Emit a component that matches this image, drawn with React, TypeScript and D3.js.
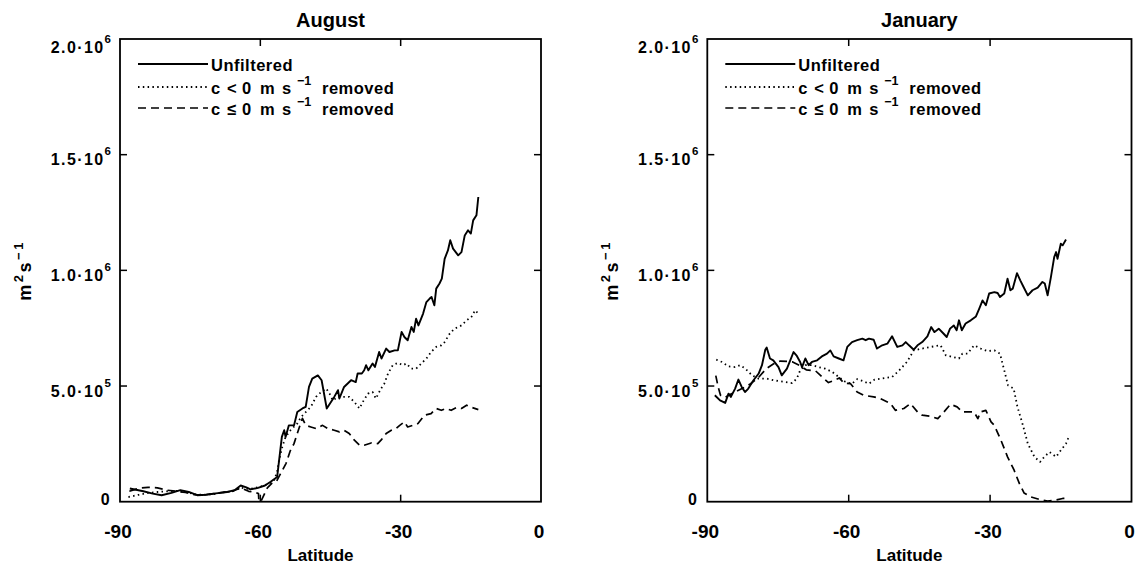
import React from 'react';
import * as d3 from 'd3';

// ---------------- data (values in units of 1e5 m^2 s^-1) ----------------
const UNIT = 1e5;
type Pt = [number, number];

const augustUnfiltered: Pt[] = [
  [-87.9, 0.57], [-85, 0.45], [-83, 0.35], [-81.1, 0.28], [-79, 0.38], [-77.1, 0.5], [-75.3, 0.42],
  [-73.5, 0.28], [-71.5, 0.3], [-69.5, 0.36], [-67.1, 0.42], [-65.5, 0.5], [-64.2, 0.7], [-63, 0.62],
  [-62.1, 0.53], [-60.5, 0.6], [-59, 0.7], [-57.8, 0.86], [-56.4, 1.07], [-55.4, 2.8], [-54.9, 3.09],
  [-54.6, 2.8], [-53.9, 3.3], [-52.8, 3.3], [-52.1, 3.88], [-51.0, 4.03], [-50.3, 4.1], [-49.6, 4.96],
  [-48.9, 5.32], [-47.7, 5.46], [-46.9, 5.25], [-45.8, 4.03], [-44.9, 4.31], [-44.2, 4.53], [-43.4, 4.82],
  [-43.1, 4.46], [-42.1, 4.96], [-40.6, 5.25], [-39.6, 5.17], [-39.2, 5.54], [-38.3, 5.54], [-37.8, 5.68],
  [-37.4, 5.9], [-36.9, 5.68], [-36.0, 5.97], [-35.5, 5.82], [-34.6, 6.47], [-34.1, 6.19], [-33.1, 6.62],
  [-32.4, 6.47], [-31.3, 6.54], [-30.6, 6.54], [-29.8, 7.34], [-29.2, 7.12], [-28.5, 6.98], [-27.7, 7.55],
  [-27.2, 7.34], [-26.7, 7.91], [-26.2, 7.62], [-25.2, 8.13], [-24.5, 8.63], [-23.8, 8.78], [-23.4, 8.85],
  [-22.8, 8.49], [-22.4, 9.21], [-21.7, 9.43], [-21.2, 9.64], [-20.6, 10.5], [-19.9, 10.86], [-19.4, 11.3],
  [-18.8, 10.94], [-17.7, 10.65], [-17.0, 10.79], [-16.3, 11.51], [-15.6, 11.73], [-15.0, 11.59],
  [-14.5, 12.16], [-13.8, 12.38], [-13.4, 13.17],
];

const augustNoNegative: Pt[] = [
  [-88.2, 0.2], [-86, 0.3], [-84, 0.38], [-82, 0.42], [-80, 0.45], [-78, 0.47], [-76, 0.42], [-74, 0.32],
  [-72, 0.3], [-70, 0.33], [-68, 0.4], [-66, 0.45], [-64.2, 0.6], [-62.5, 0.55], [-61, 0.6], [-59.5, 0.68],
  [-58, 0.8], [-57, 0.95], [-56.4, 1.3], [-56.0, 1.79], [-55.3, 2.37], [-54.6, 2.8], [-53.5, 3.1],
  [-52.1, 3.38], [-51.3, 3.66], [-50.6, 3.81], [-49.2, 4.1], [-48.1, 4.53], [-47.0, 4.74], [-45.9, 4.89],
  [-45.2, 4.67], [-44.5, 4.38], [-43.4, 4.53], [-42.1, 4.53], [-41.0, 4.53], [-39.9, 4.31], [-38.8, 4.03],
  [-38.1, 4.31], [-37.0, 4.67], [-36.0, 4.74], [-35.3, 4.46], [-34.2, 4.89], [-33.5, 5.1], [-32.7, 5.54],
  [-31.7, 5.9], [-30.6, 6.0], [-29.5, 5.9], [-28.8, 5.97], [-27.7, 5.75], [-26.7, 5.75], [-25.6, 5.97],
  [-24.5, 6.19], [-23.5, 6.47], [-22.4, 6.69], [-21.3, 6.76], [-20.6, 6.9], [-19.5, 7.27], [-18.5, 7.48],
  [-17.0, 7.62], [-15.9, 7.84], [-14.9, 7.98], [-14.1, 8.27], [-13.4, 8.13],
];

const augustNoNonPositive: Pt[] = [
  [-88, 0.45], [-86, 0.58], [-84, 0.62], [-82, 0.6], [-80, 0.5], [-78, 0.45], [-76, 0.4], [-74, 0.3],
  [-72, 0.3], [-70, 0.35], [-68, 0.4], [-66, 0.45], [-64.2, 0.6], [-62.5, 0.45], [-61, 0.4], [-60.4, 0.35],
  [-60.3, 0.0], [-59.8, 0.05], [-58.5, 0.6], [-57.5, 0.8], [-56.5, 0.9], [-55.7, 1.2], [-54.5, 1.66],
  [-53.6, 2.2], [-52.8, 2.51], [-52.1, 2.95], [-51.4, 3.38], [-51.0, 3.6], [-50.3, 3.3], [-49.2, 3.23],
  [-48.1, 3.16], [-46.7, 3.3], [-45.6, 3.16], [-44.2, 3.09], [-43.1, 3.02], [-42.1, 3.09], [-41.0, 2.95],
  [-39.9, 2.66], [-38.8, 2.44], [-37.8, 2.44], [-36.3, 2.54], [-34.9, 2.51], [-34.2, 2.66], [-33.1, 2.95],
  [-32.0, 3.09], [-31.0, 3.16], [-30.2, 3.3], [-29.2, 3.45], [-28.5, 3.23], [-27.4, 3.3], [-26.3, 3.38],
  [-24.9, 3.74], [-23.5, 3.81], [-22.4, 4.03], [-21.3, 3.95], [-20.3, 4.03], [-19.2, 3.95], [-18.1, 4.07],
  [-17.0, 4.03], [-15.9, 4.17], [-15.2, 4.1], [-13.4, 3.98],
];

const januaryUnfiltered: Pt[] = [
  [-88.4, 4.6], [-87.3, 4.38], [-86.2, 4.27], [-85.5, 4.67], [-85.0, 4.53], [-84.1, 4.89], [-83.4, 5.28],
  [-82.7, 4.96], [-82.0, 4.74], [-81.3, 4.89], [-80.2, 5.25], [-79.1, 5.54], [-78.4, 5.9], [-77.7, 6.57],
  [-77.4, 6.66], [-76.7, 6.19], [-76.0, 6.11], [-74.9, 5.82], [-74.2, 5.46], [-73.1, 5.75], [-72.4, 6.11],
  [-71.7, 6.47], [-71.0, 6.3], [-70.3, 6.04], [-69.9, 5.82], [-69.2, 6.19], [-68.5, 5.9], [-67.8, 6.04],
  [-66.7, 6.11], [-65.7, 6.28], [-64.6, 6.4], [-63.9, 6.54], [-63.2, 6.28], [-62.1, 6.19], [-61.1, 6.11],
  [-60.3, 6.69], [-59.3, 6.9], [-58.2, 6.98], [-57.1, 7.05], [-56.4, 6.98], [-55.7, 7.05], [-54.7, 7.0],
  [-54.0, 6.62], [-52.9, 6.76], [-51.8, 6.83], [-50.8, 7.15], [-49.7, 6.69], [-48.6, 6.76], [-47.9, 6.9],
  [-47.2, 6.76], [-46.2, 6.57], [-45.4, 6.76], [-44.4, 6.9], [-43.3, 7.15], [-42.5, 7.55], [-41.8, 7.33],
  [-40.9, 7.48], [-39.9, 7.27], [-39.2, 7.12], [-38.5, 7.48], [-37.7, 7.62], [-37.1, 7.41], [-36.6, 7.84],
  [-36.0, 7.41], [-35.2, 7.7], [-34.1, 7.84], [-33.0, 8.01], [-32.3, 8.35], [-31.6, 8.7], [-30.9, 8.49],
  [-30.2, 9.0], [-29.1, 9.06], [-28.4, 9.02], [-27.9, 8.85], [-27.0, 9.0], [-26.3, 9.64], [-25.7, 9.14],
  [-25.2, 9.21], [-24.3, 9.88], [-23.6, 9.57], [-22.9, 9.28], [-22.0, 8.92], [-21.0, 9.14], [-19.9, 9.25],
  [-18.9, 9.5], [-18.4, 9.43], [-17.8, 8.92], [-17.1, 9.71], [-16.4, 10.57], [-16.0, 10.79], [-15.7, 10.5],
  [-15.0, 11.15], [-14.6, 11.08], [-13.9, 11.33],
];

const januaryNoNegative: Pt[] = [
  [-88.1, 6.14], [-86.9, 6.04], [-85.5, 5.85], [-84.1, 5.82], [-83.0, 5.9], [-81.9, 5.75], [-80.5, 5.46],
  [-79.1, 5.32], [-77.4, 5.32], [-76.0, 5.25], [-73.8, 5.18], [-72.0, 5.13], [-71.0, 5.32], [-70.3, 5.68],
  [-69.2, 5.9], [-67.8, 5.9], [-66.4, 5.82], [-65.0, 5.75], [-63.5, 5.61], [-62.1, 5.39], [-60.7, 5.18],
  [-59.3, 5.1], [-58.2, 5.3], [-56.8, 5.2], [-55.7, 5.1], [-54.5, 5.28], [-52.8, 5.33], [-50.8, 5.39],
  [-49.4, 5.65], [-47.6, 6.05], [-46.2, 6.54], [-44.4, 6.62], [-42.6, 6.69], [-40.5, 6.76], [-39.4, 6.33],
  [-38.0, 6.26], [-36.6, 6.19], [-35.9, 6.4], [-34.8, 6.4], [-33.4, 6.76], [-32.0, 6.62], [-30.6, 6.51],
  [-29.1, 6.54], [-27.9, 6.4], [-27.0, 5.68], [-26.2, 5.03], [-25.0, 4.89], [-24.2, 4.1], [-23.0, 3.28],
  [-22.0, 2.51], [-20.6, 1.94], [-19.4, 1.72], [-18.5, 1.94], [-17.4, 2.15], [-16.0, 1.94], [-15.0, 2.22],
  [-13.9, 2.51], [-13.3, 2.8],
];

const januaryNoNonPositive: Pt[] = [
  [-88.2, 5.45], [-87.7, 4.96], [-87.2, 4.6], [-86.2, 4.5], [-85.5, 4.6], [-84, 4.75], [-82, 4.96],
  [-80.8, 5.1], [-79, 5.4], [-77.5, 5.75], [-76, 5.95], [-74.5, 6.08], [-72, 6.05], [-70.5, 5.9],
  [-69, 5.7], [-67, 5.65], [-65.7, 5.4], [-64.3, 5.15], [-63, 5.25], [-62, 5.35], [-61, 5.12],
  [-59.6, 5.1], [-58.2, 4.74], [-56.8, 4.6], [-54.7, 4.53], [-53.3, 4.46], [-51.1, 4.24], [-50.1, 3.95],
  [-48.3, 4.03], [-46.9, 4.24], [-45.4, 3.88], [-44.4, 3.74], [-42.6, 3.69], [-41.1, 3.59], [-39.8, 3.88],
  [-38.4, 4.21], [-37.0, 4.1], [-35.9, 3.88], [-34.5, 3.88], [-33.4, 3.88], [-32.6, 3.59], [-32.0, 3.88],
  [-30.9, 3.95], [-29.8, 3.45], [-29.1, 3.3], [-27.7, 2.66], [-26.3, 1.94], [-24.9, 1.36], [-23.8, 0.79],
  [-22.8, 0.38], [-21.4, 0.21], [-19.6, 0.1], [-17.8, 0.03], [-16.4, 0.06], [-14.6, 0.14], [-13.9, 0.14],
];

const panelTitles = ['August', 'January'];
const xTickValues = [-90, -60, -30, 0];
const xTickLabels = ['-90', '-60', '-30', '0'];
const yTickValues = [0, 5e5, 1e6, 1.5e6, 2e6];
const yTickMantissa = ['0', '5.0·10', '1.0·10', '1.5·10', '2.0·10'];
const yTickExponent = ['', '5', '6', '6', '6'];
const legendRelations = ['', '<', '≤'];
const legendFirstLabel = 'Unfiltered';

// ---------------- layout ----------------
const W = 1135;
const H = 564;
const TOP = 39;
const BOTTOM = 501.7;
const FONT = "'Liberation Sans', Arial, Helvetica, sans-serif";
const panels = [
  { x0: 120, x1: 541, title: panelTitles[0], series: [augustUnfiltered, augustNoNegative, augustNoNonPositive] },
  { x0: 707.3, x1: 1131.5, title: panelTitles[1], series: [januaryUnfiltered, januaryNoNegative, januaryNoNonPositive] },
];
const styles = [
  { dash: undefined as string | undefined, width: 1.9 },
  { dash: '1.5,3.3', width: 1.8 },
  { dash: '8,5', width: 1.7 },
];
const TICK = 7;

function Panel({ x0, x1, title, series }: { x0: number; x1: number; title: string; series: Pt[][] }) {
  const x = d3.scaleLinear().domain([-90, 0]).range([x0, x1]);
  const y = d3.scaleLinear().domain([0, 2e6]).range([BOTTOM, TOP]);
  const line = d3.line<Pt>().x((d) => x(d[0])).y((d) => y(d[1] * UNIT));
  const cx = (x0 + x1) / 2;
  const innerX = xTickValues.filter((v) => v > -90 && v < 0);
  const innerY = yTickValues.filter((v) => v > 0 && v < 2e6);

  const legLineStart = x0 + 18;
  const legLineEnd = x0 + 88;
  const tx = x0 + 91;
  const lineYs = [64, 87, 108];
  const baseYs = [71, 94, 115];

  return (
    <g>
      <text x={cx} y={27} textAnchor="middle" fontFamily={FONT} fontWeight="bold" fontSize={20}>
        {title}
      </text>
      <rect x={x0} y={TOP} width={x1 - x0} height={BOTTOM - TOP} fill="none" stroke="#000" strokeWidth={1.8} />
      {innerX.map((v) => (
        <g key={'xt' + v}>
          <line x1={x(v)} x2={x(v)} y1={BOTTOM} y2={BOTTOM - TICK} stroke="#000" strokeWidth={1.5} />
          <line x1={x(v)} x2={x(v)} y1={TOP} y2={TOP + TICK} stroke="#000" strokeWidth={1.5} />
        </g>
      ))}
      {innerY.map((v) => (
        <g key={'yt' + v}>
          <line x1={x0} x2={x0 + TICK} y1={y(v)} y2={y(v)} stroke="#000" strokeWidth={1.5} />
          <line x1={x1} x2={x1 - TICK} y1={y(v)} y2={y(v)} stroke="#000" strokeWidth={1.5} />
        </g>
      ))}
      {xTickValues.map((v, i) => (
        <text key={'xl' + v} x={x(v) - 2} y={538} textAnchor="middle" fontFamily={FONT} fontWeight="bold" fontSize={19}>
          {xTickLabels[i]}
        </text>
      ))}
      {yTickValues.map((v, i) => {
        const base = y(v) + (yTickExponent[i] ? (i === yTickValues.length - 1 ? 14 : 10.5) : 3);
        return (
          <text key={'yl' + v} x={x0 - 9} y={base} textAnchor="end" fontFamily={FONT} fontWeight="bold" fontSize={16} letterSpacing={1.4}>
            {yTickMantissa[i]}
            {yTickExponent[i] ? (
              <tspan fontSize={11.5} dy={-10} letterSpacing={0}>{yTickExponent[i]}</tspan>
            ) : null}
          </text>
        );
      })}
      <text x={cx - 10} y={561} textAnchor="middle" fontFamily={FONT} fontWeight="bold" fontSize={17}>
        Latitude
      </text>
      <text
        transform={`translate(${x0 - 89},${(TOP + BOTTOM) / 2}) rotate(-90)`}
        textAnchor="middle"
        fontFamily={FONT}
        fontWeight="bold"
        fontSize={18}
        letterSpacing={2.5}
      >
        m<tspan fontSize={13} dy={-8}>2</tspan>
        <tspan dy={8}>s</tspan>
        <tspan fontSize={13} dy={-8}>−1</tspan>
      </text>

      {series.map((s, i) => (
        <path
          key={'s' + i}
          d={line(s) || ''}
          fill="none"
          stroke="#000"
          strokeWidth={styles[i].width}
          strokeDasharray={styles[i].dash}
          strokeLinejoin="round"
        />
      ))}

      {styles.map((st, i) => (
        <line
          key={'lg' + i}
          x1={legLineStart}
          x2={legLineEnd}
          y1={lineYs[i]}
          y2={lineYs[i]}
          stroke="#000"
          strokeWidth={st.width}
          strokeDasharray={st.dash}
        />
      ))}
      <text x={tx} y={baseYs[0]} fontFamily={FONT} fontWeight="bold" fontSize={16.5} letterSpacing={0.5}>
        {legendFirstLabel}
      </text>
      {[1, 2].map((i) => (
        <g key={'lt' + i} fontFamily={FONT} fontWeight="bold" fontSize={16.5}>
          <text x={tx} y={baseYs[i]}>c</text>
          <text x={tx + 16} y={baseYs[i]}>{legendRelations[i]}</text>
          <text x={tx + 31} y={baseYs[i]}>0</text>
          <text x={tx + 49} y={baseYs[i]}>m</text>
          <text x={tx + 71} y={baseYs[i]}>s</text>
          <text x={tx + 86} y={baseYs[i] - 9} fontSize={12.5}>−1</text>
          <text x={tx + 111} y={baseYs[i]} letterSpacing={0.5}>removed</text>
        </g>
      ))}
    </g>
  );
}

export default function App() {
  return (
    <svg
      width={W}
      height={H}
      viewBox={`0 0 ${W} ${H}`}
      style={{ position: 'absolute', left: 0, top: 0, display: 'block', background: '#fff' }}
    >
      <rect x={0} y={0} width={W} height={H} fill="#fff" />
      {panels.map((p, i) => (
        <Panel key={i} x0={p.x0} x1={p.x1} title={p.title} series={p.series} />
      ))}
    </svg>
  );
}
